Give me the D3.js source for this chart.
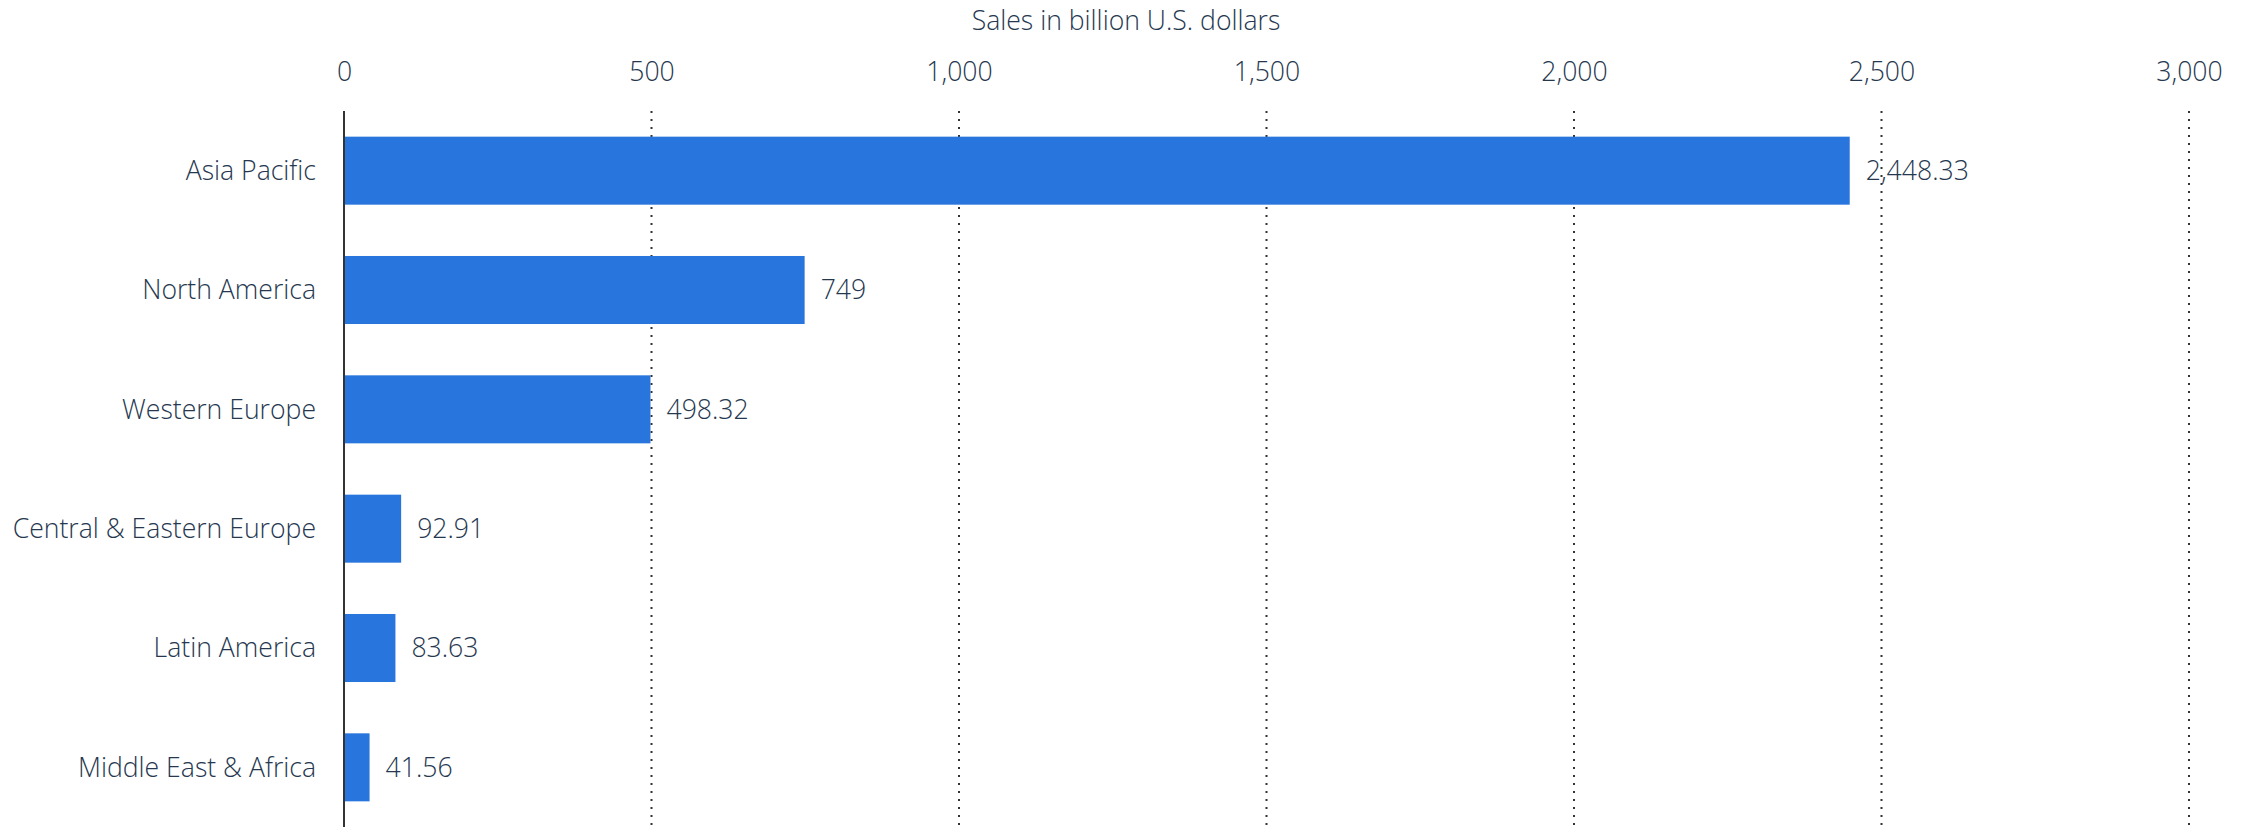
<!DOCTYPE html>
<html>
<head>
<meta charset="utf-8">
<script src="https://cdn.jsdelivr.net/npm/d3@7"></script>
<style>
  html, body { margin: 0; padding: 0; background: #ffffff; }
  svg { display: block; }
  text { font-family: "Open Sans", sans-serif; font-weight: 300; fill: #263850; }
</style>
</head>
<body>
<svg id="chart" width="2252" height="827"></svg>
<script>
// Retail sales by region, billion U.S. dollars
const regions = [
  "Asia Pacific",
  "North America",
  "Western Europe",
  "Central & Eastern Europe",
  "Latin America",
  "Middle East & Africa"
];
const sales = [2448.33, 749, 498.32, 92.91, 83.63, 41.56];
const tickValues = [0, 500, 1000, 1500, 2000, 2500, 3000];
const axisTitle = "Sales in billion U.S. dollars";

const W = 2252, H = 827;
const plotTop = 111, plotBottom = 827;
const x0 = 344, x1 = 2189;
const fontSize = "26.6px";

const svg = d3.select("#chart");

const x = d3.scaleLinear().domain([0, 3000]).range([x0, x1]);
const y = d3.scaleBand()
  .domain(regions)
  .range([plotTop, plotBottom])
  .paddingInner(0.43)
  .paddingOuter(0.215);

const rows = regions.map((r, i) => ({ region: r, value: sales[i] }));

// dotted vertical gridlines
svg.append("g")
  .selectAll("line")
  .data(tickValues.filter(d => d > 0))
  .join("line")
  .attr("x1", d => x(d))
  .attr("x2", d => x(d))
  .attr("y1", plotTop)
  .attr("y2", plotBottom)
  .attr("stroke", "#333333")
  .attr("stroke-width", 2)
  .attr("stroke-dasharray", "2,6");

// bars
svg.append("g")
  .selectAll("rect")
  .data(rows)
  .join("rect")
  .attr("x", x(0) + 1)
  .attr("y", d => y(d.region))
  .attr("width", d => x(d.value) - x(0) - 1)
  .attr("height", y.bandwidth())
  .attr("fill", "#2876dd");

// zero baseline
svg.append("line")
  .attr("x1", x(0)).attr("x2", x(0))
  .attr("y1", plotTop).attr("y2", plotBottom)
  .attr("stroke", "#333333")
  .attr("stroke-width", 2);

// top axis tick labels
const axisTop = d3.axisTop(x)
  .tickValues(tickValues)
  .tickFormat(d3.format(","))
  .tickSize(0)
  .tickPadding(0);

const gAxis = svg.append("g")
  .attr("transform", "translate(0,81)")
  .call(axisTop);
gAxis.select(".domain").remove();
gAxis.selectAll("text")
  .attr("font-family", null)
  .style("font-size", fontSize)
  .attr("fill", null);

// axis title
svg.append("text")
  .attr("x", W / 2)
  .attr("y", 30)
  .attr("text-anchor", "middle")
  .style("font-size", fontSize)
  .text(axisTitle);

// category labels
svg.append("g")
  .selectAll("text")
  .data(rows)
  .join("text")
  .attr("x", 316)
  .attr("y", d => y(d.region) + y.bandwidth() / 2)
  .attr("dy", "0.35em")
  .attr("text-anchor", "end")
  .style("font-size", fontSize)
  .text(d => d.region);

// value labels
const fmt = d3.format(",");
svg.append("g")
  .selectAll("text")
  .data(rows)
  .join("text")
  .attr("x", d => x(d.value) + 16)
  .attr("y", d => y(d.region) + y.bandwidth() / 2)
  .attr("dy", "0.35em")
  .style("font-size", fontSize)
  .text(d => fmt(d.value));
</script>
</body>
</html>
